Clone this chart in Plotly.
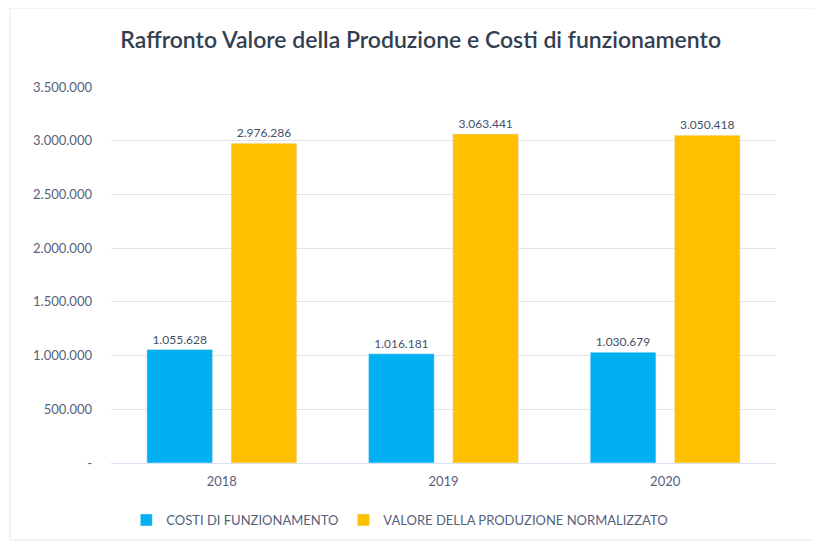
import plotly.graph_objects as go

anni = ["2018", "2019", "2020"]
costi = [1055628, 1016181, 1030679]
valore = [2976286, 3063441, 3050418]
tick_vals = [0, 500000, 1000000, 1500000, 2000000, 2500000, 3000000, 3500000]
tick_text = ["-", "500.000", "1.000.000", "1.500.000", "2.000.000", "2.500.000", "3.000.000", "3.500.000"]

FONT = "Lato"
W, H = 814, 539
L, R, T, B = 103, 46, 79, 84
PW, PH = W - L - R, H - T - B
TXT = "#56627A"

fig = go.Figure()
fig.add_trace(go.Bar(x=anni, y=costi, name="COSTI DI FUNZIONAMENTO",
                     marker_color="#00B0F0", texttemplate="%{y:,}", textposition="outside",
                     textfont=dict(size=12, color="#44506A", family=FONT), cliponaxis=False))
fig.add_trace(go.Bar(x=anni, y=valore, name="VALORE DELLA PRODUZIONE NORMALIZZATO",
                     marker_color="#FFC000", texttemplate="%{y:,}", textposition="outside",
                     textfont=dict(size=12, color="#44506A", family=FONT), cliponaxis=False))

fig.update_layout(
    width=W, height=H,
    separators=",.",
    paper_bgcolor="white", plot_bgcolor="white",
    margin=dict(l=L, r=R, t=T, b=B, autoexpand=False),
    barmode="group", bargap=0.24, bargroupgap=0.22,
    title=dict(text="Raffronto Valore della Produzione e Costi di funzionamento",
               x=0.507, xanchor="center", y=0.941, yanchor="middle",
               font=dict(family=FONT, size=23, color="#333F50", weight=600)),
    font=dict(family=FONT, size=13, color=TXT),
    showlegend=True,
    legend=dict(orientation="h", x=0.023, xanchor="left", y=-(512 - (T + PH)) / PH,
                yanchor="middle",
                font=dict(size=13, color=TXT, family=FONT),
                itemwidth=30, tracegroupgap=0),
    xaxis=dict(showgrid=False, showline=True, linecolor="#D9E1F2", linewidth=1,
               ticks="", ticklabelstandoff=6, tickfont=dict(size=13, color=TXT)),
    yaxis=dict(range=[0, 3500000], tickvals=tick_vals, ticktext=tick_text,
               showgrid=True, gridcolor="#E3E3E3", zeroline=False, showline=False,
               ticks="", ticklabelstandoff=18, tickfont=dict(size=13, color=TXT)),
)
fig.add_shape(type="rect", xref="paper", yref="paper",
              x0=(2 - L) / PW, x1=(830 - L) / PW,
              y0=-(532 - (T + PH)) / PH, y1=1 + (T - 0) / PH,
              line=dict(color="#E6EAF2", width=1), fillcolor="rgba(0,0,0,0)", layer="below")
fig.write_html("out.html")
